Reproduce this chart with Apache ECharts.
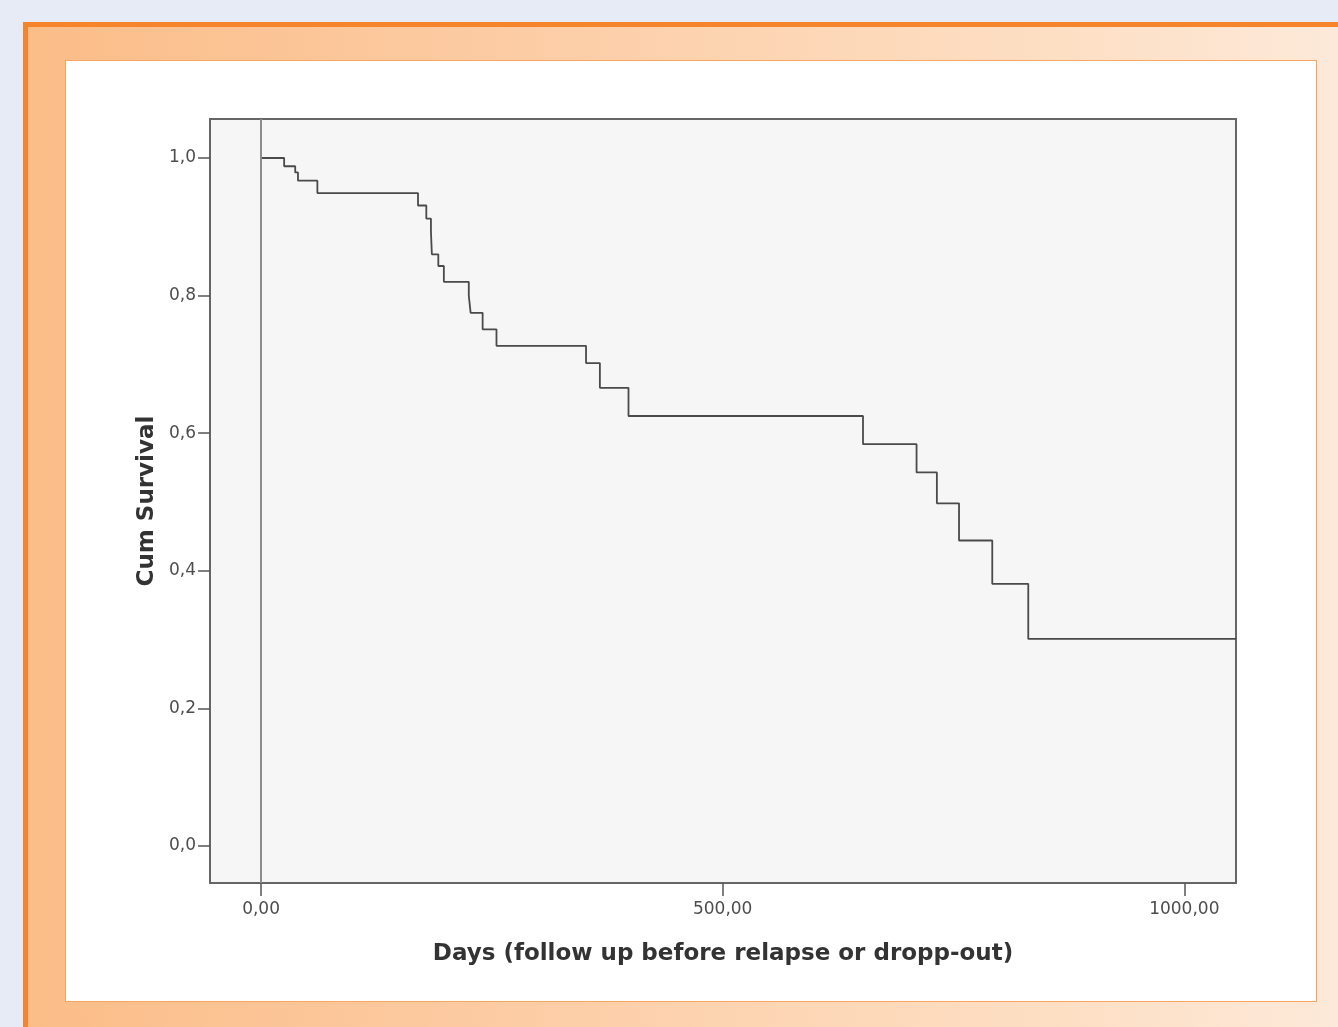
<!DOCTYPE html>
<html>
<head>
<meta charset="utf-8">
<script src="https://cdn.jsdelivr.net/npm/echarts@6/dist/echarts.min.js"></script>
<style>
  html, body { margin: 0; padding: 0; }
  body { width: 1338px; height: 1027px; overflow: hidden; background: #e7ebf5; position: relative; }
  .frame { position: absolute; left: 23px; top: 22px; width: 1330px; height: 1020px;
           border-top: 5px solid #f5842a; border-left: 5px solid #f5842a;
           background: linear-gradient(to right, #fbbd88 0%, #fcc99f 30%, #fdd5b3 55%, #fde0c6 80%, #fdeadb 100%); }
  .panel { position: absolute; left: 65px; top: 60px; width: 1252px; height: 942px; box-sizing: border-box;
           background: #ffffff; border: 1.5px solid #f9a45f; }
  #chart { position: absolute; left: 0; top: 0; width: 1338px; height: 1027px; }
</style>
</head>
<body>
<div class="frame"></div>
<div class="panel"></div>
<div id="chart"></div>
<script>
// Kaplan-Meier estimate
const days     = [0, 25, 37, 40, 61, 170, 179, 184, 185, 192, 198, 225, 227, 240, 255, 352, 367, 398, 652, 710, 732, 756, 792, 831, 1056];
const survival = [1.0, 0.988, 0.979, 0.967, 0.949, 0.931, 0.912, 0.894, 0.860, 0.843, 0.820, 0.800, 0.775, 0.751, 0.727, 0.702, 0.666, 0.625, 0.584, 0.543, 0.498, 0.444, 0.381, 0.301, 0.301];
const xTicks = [0, 500, 1000];
const yTicks = [0, 0.2, 0.4, 0.6, 0.8, 1.0];

const chart = echarts.init(document.getElementById('chart'), null, { renderer: 'canvas' });
const seriesData = days.map((d, i) => [d, survival[i]]);
const font = 'DejaVu Sans';

chart.setOption({
  animation: false,
  backgroundColor: 'transparent',
  grid: {
    left: 210, top: 119, right: 102, bottom: 144,
    show: true, backgroundColor: '#f6f6f6', borderColor: '#666', borderWidth: 2
  },
  xAxis: {
    type: 'value', min: -55.3, max: 1056,
    name: 'Days (follow up before relapse or dropp-out)',
    nameLocation: 'middle', nameGap: 60,
    nameTextStyle: { fontFamily: font, fontWeight: 'bold', fontSize: 23, color: '#333' },
    axisLine: { show: true, onZero: false, lineStyle: { color: '#666', width: 2 } },
    axisTick: { show: true, inside: false, length: 13, customValues: xTicks, lineStyle: { color: '#555', width: 1.5 } },
    axisLabel: { customValues: xTicks, margin: 18, fontFamily: font, fontSize: 17, color: '#4d4d4d',
                 formatter: v => v.toFixed(2).replace('.', ',') },
    splitLine: { show: false }
  },
  yAxis: {
    type: 'value', min: -0.0538, max: 1.0567,
    name: 'Cum Survival',
    nameLocation: 'middle', nameGap: 50,
    nameTextStyle: { fontFamily: font, fontWeight: 'bold', fontSize: 23, color: '#333' },
    axisLine: { show: true, onZero: false, lineStyle: { color: '#666', width: 2 } },
    axisTick: { show: true, inside: false, length: 12, customValues: yTicks, lineStyle: { color: '#555', width: 1.5 } },
    axisLabel: { customValues: yTicks, margin: 14, fontFamily: font, fontSize: 17, color: '#4d4d4d',
                 formatter: v => v.toFixed(1).replace('.', ',') },
    splitLine: { show: false }
  },
  series: [{
    type: 'line',
    step: 'end',
    data: seriesData,
    showSymbol: false,
    symbol: 'none',
    lineStyle: { color: '#4a4a4a', width: 1.8 },
    markLine: {
      silent: true,
      symbol: ['none', 'none'],
      label: { show: false },
      lineStyle: { color: '#8c8c8c', width: 2, type: 'solid' },
      data: [{ xAxis: 0 }]
    },
    z: 3
  }]
});
</script>
</body>
</html>
